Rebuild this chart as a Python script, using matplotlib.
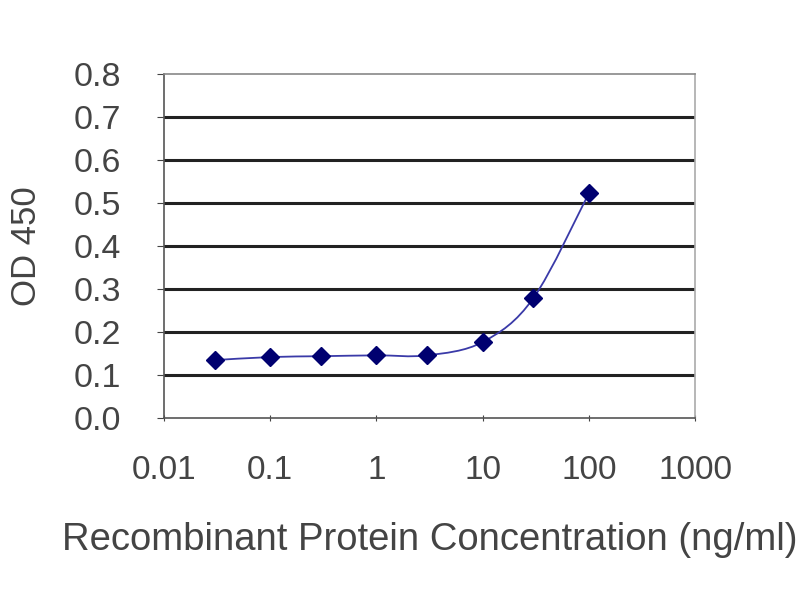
import numpy as np
import matplotlib.pyplot as plt
from matplotlib.path import Path
from matplotlib.patches import PathPatch

# ELISA standard curve values
conc = [0.03, 0.1, 0.3, 1, 3, 10, 30, 100]
od450 = [0.135, 0.142, 0.144, 0.146, 0.146, 0.177, 0.279, 0.523]
x_ticks = [0.01, 0.1, 1, 10, 100, 1000]
x_tick_labels = ["0.01", "0.1", "1", "10", "100", "1000"]
y_ticks = [0.0, 0.1, 0.2, 0.3, 0.4, 0.5, 0.6, 0.7, 0.8]

plt.rcParams['font.family'] = ['Liberation Sans', 'DejaVu Sans']

fig = plt.figure(figsize=(8, 6), dpi=100)
ax = fig.add_axes([0.205, 0.303, 0.664, 0.574])
ax.set_xscale('log')
ax.set_xlim(0.01, 1000)
ax.set_ylim(0, 0.8)


def smooth_path(xs, ys, t=1/6):
    # Excel-style smoothed line: Catmull-Rom segments as cubic Bezier, in log-x space
    lx = np.log10(xs)
    y = np.asarray(ys, dtype=float)
    verts = [(lx[0], y[0])]
    codes = [Path.MOVETO]
    n = len(lx)
    for i in range(n - 1):
        p0 = i - 1 if i > 0 else i
        p3 = i + 2 if i + 2 < n else i + 1
        c1 = (lx[i] + (lx[i + 1] - lx[p0]) * t, y[i] + (y[i + 1] - y[p0]) * t)
        c2 = (lx[i + 1] - (lx[p3] - lx[i]) * t, y[i + 1] - (y[p3] - y[i]) * t)
        verts += [c1, c2, (lx[i + 1], y[i + 1])]
        codes += [Path.CURVE4] * 3
    verts = [(10 ** vx, vy) for vx, vy in verts]
    return Path(verts, codes)


ax.add_patch(PathPatch(smooth_path(conc, od450), facecolor='none',
                       edgecolor='#3a3aa8', lw=1.3, zorder=3))
ax.plot(conc, od450, linestyle='none', marker='D', markersize=9.5,
        color='#000070', zorder=4)

for yv in y_ticks[1:-1]:
    ax.axhline(yv, color='#222222', lw=2.2, zorder=1)

for s in ax.spines.values():
    s.set_color('#555555')
    s.set_linewidth(1.2)
ax.spines['top'].set_color('#888888')
ax.spines['right'].set_color('#aaaaaa')

ax.set_xticks(x_ticks)
ax.set_xticklabels(x_tick_labels)
ax.xaxis.set_minor_locator(plt.NullLocator())
ax.set_yticks(y_ticks)
ax.set_yticklabels([f"{v:.1f}" for v in y_ticks])

ax.tick_params(axis='x', labelsize=24, colors='#444444', length=5,
               direction='inout', pad=24)
ax.tick_params(axis='y', labelsize=24.5, colors='#444444', length=5,
               direction='out', pad=26)

ax.set_xlabel("Recombinant Protein Concentration (ng/ml)", fontsize=27.5,
              color='#444444', labelpad=26)
ax.set_ylabel("OD 450", fontsize=25, color='#444444', labelpad=22)

fig.savefig("out.png", dpi=100)
